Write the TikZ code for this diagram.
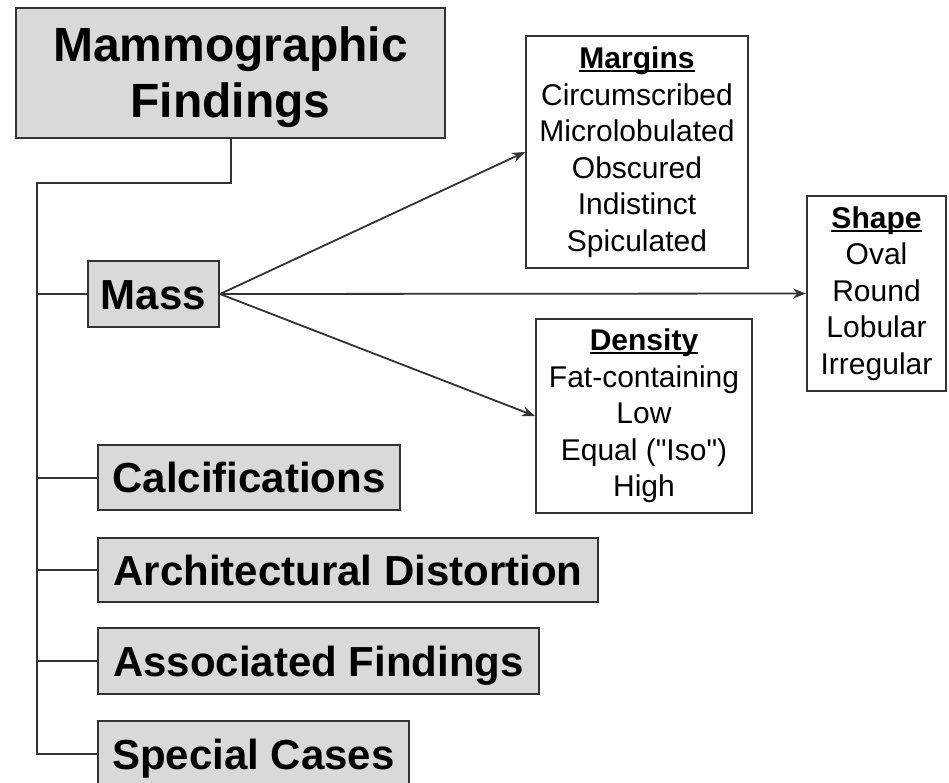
\documentclass[tikz,border=0pt]{standalone}
\usepackage{fontspec}
\setmainfont{Liberation Sans}[Ligatures=TeXOff]
\usetikzlibrary{arrows.meta}
\definecolor{linec}{HTML}{333333}
\definecolor{boxfill}{HTML}{D9D9D9}
\newcommand{\headul}[1]{\textbf{\setbox0\hbox{#1}\rlap{\rule[-3.5pt]{\wd0}{2pt}}\box0}}
\begin{document}
\begin{tikzpicture}[x=1pt,y=-1pt,
  graybox/.style={draw=linec, line width=2pt, fill=boxfill, inner sep=0pt,
    text height=30.5pt, text depth=0pt,
    font=\bfseries\fontsize{42}{50}\selectfont},
  titlebox/.style={draw=linec, line width=2pt, fill=boxfill, inner sep=0pt},
  titletext/.style={inner sep=0pt, align=center, font=\bfseries\fontsize{48}{56}\selectfont},
  listbox/.style={draw=linec, line width=2pt, fill=white, inner sep=0pt,
    align=center, font=\fontsize{30}{36.5}\selectfont},
  link/.style={draw=linec, line width=2pt},
  arr/.style={draw=linec, line width=1.8pt, -{Stealth[length=13pt,width=10pt]}}]
\useasboundingbox (0,0) rectangle (949,782);
\fill[white] (0,0) rectangle (949,782);

\node[titlebox, minimum width=429pt, minimum height=130pt] (title) at (230.5,73) {};
\node[titletext] (titlelabel) at (230.5,77) {Mammographic\\Findings};
\node[graybox, minimum width=131pt, minimum height=66pt] (mass) at (153.5,294) {Mass};
\node[graybox, minimum width=302pt, minimum height=65pt] (calc) at (249,477.5) {Calcifications};
\node[graybox, minimum width=500pt, minimum height=64pt] (arch) at (348,570) {Architectural Distortion};
\node[graybox, minimum width=441pt, minimum height=66pt] (assoc) at (318.5,661) {Associated Findings};
\node[graybox, minimum width=311pt, minimum height=66pt] (spec) at (253.5,754) {Special Cases};

\node[listbox, minimum width=222pt, minimum height=232pt] (margins) at (637,152)
  {\headul{Margins}\\Circumscribed\\Microlobulated\\Obscured\\Indistinct\\Spiculated};
\node[listbox, minimum width=139pt, minimum height=195pt] (shape) at (876.5,293.5)
  {\headul{Shape}\\Oval\\Round\\Lobular\\Irregular};
\node[listbox, minimum width=216pt, minimum height=194pt] (density) at (644,416)
  {\headul{Density}\\Fat-containing\\Low\\Equal ("Iso")\\High};

\coordinate (corner) at (37,183);
\coordinate (bottom) at (37,754);
\draw[link] (title.south) |- (corner) -- (bottom) -- (spec.west);
\draw[link] (mass.west) -- (mass.west -| corner);
\draw[link] (calc.west) -- (calc.west -| corner);
\draw[link] (arch.west) -- (arch.west -| corner);
\draw[link] (assoc.west) -- (assoc.west -| corner);

\draw[arr] (mass.east) -- (margins.west);
\draw[arr] (mass.east) -- (shape.west);
\draw[arr] (mass.east) -- (density.west);
\end{tikzpicture}
\end{document}
